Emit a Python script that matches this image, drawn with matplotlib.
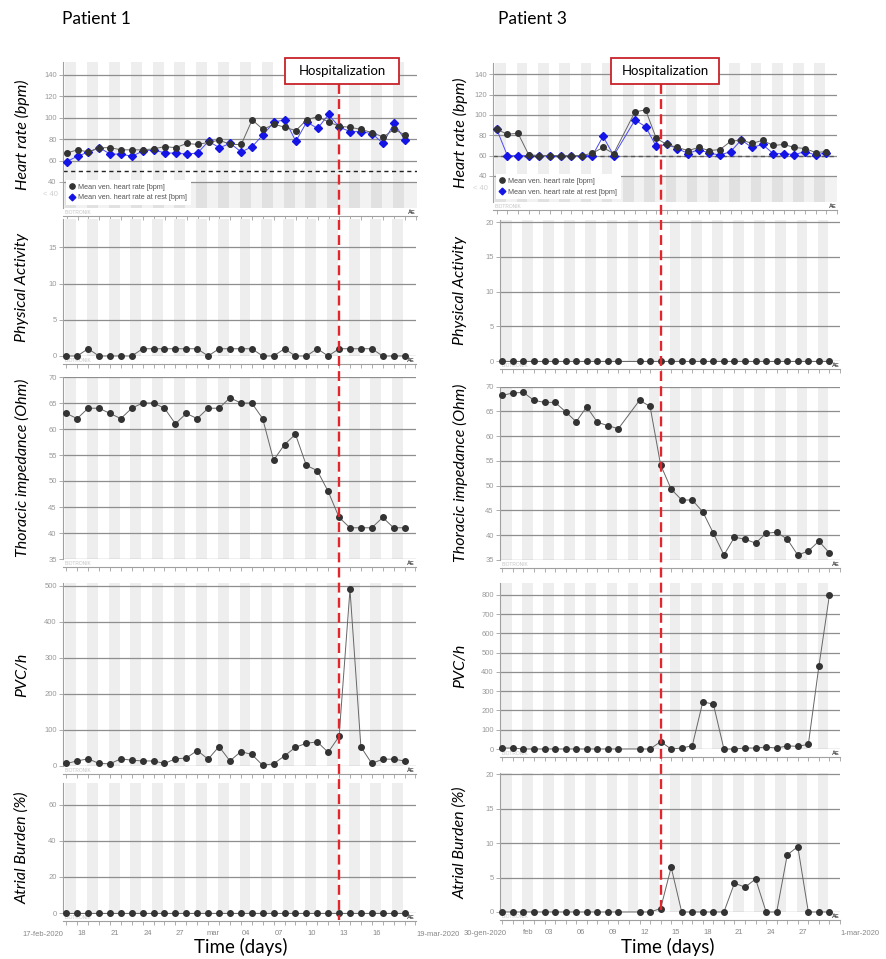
import numpy as np
import matplotlib.pyplot as plt
import matplotlib.transforms as mtransforms
from matplotlib.lines import Line2D
from matplotlib.patches import Rectangle

nan = np.nan

# ---- Patient 1: one value per day, 17-feb-2020 .. 19-mar-2020 ----
p1_hr_mean = [67, 70, 68, 72, 72, 70, 70, 70, 71, 73, 72, 76, 75, 77, 79, 75,
              75, 98, 89, 94, 91, 88, 98, 101, 96, 92, 91, 89, 86, 82, 89, 84]
p1_hr_rest = [59, 64, 68, 72, 66, 66, 64, 69, 70, 67, 67, 66, 67, 78, 72, 76,
              68, 73, 84, 96, 98, 78, 96, 90, 103, 91, 87, 87, 85, 76, 95, 79]
p1_activity = [0, 0, 1, 0, 0, 0, 0, 1, 1, 1, 1, 1, 1, 0, 1, 1,
               1, 1, 0, 0, 1, 0, 0, 1, 0, 1, 1, 1, 1, 0, 0, 0]
p1_impedance = [63, 62, 64, 64, 63, 62, 64, 65, 65, 64, 61, 63, 62, 64, 64, 66,
                65, 65, 62, 54, 57, 59, 53, 52, 48, 43, 41, 41, 41, 43, 41, 41]
p1_pvc = [7, 14, 20, 7, 6, 20, 16, 14, 14, 7, 20, 22, 43, 19, 54, 14,
          40, 32, 2, 6, 28, 52, 63, 67, 38, 82, 490, 53, 7, 19, 19, 14]
p1_burden = [0, 0, 0, 0, 0, 0, 0, 0, 0, 0, 0, 0, 0, 0, 0, 0,
             0, 0, 0, 0, 0, 0, 0, 0, 0, 0, 0, 0, 0, 0, 0, 0]
p1_range = ['17-feb-2020', '19-mar-2020']
p1_tick_days = [1, 4, 7, 10, 13, 16, 19, 22, 25, 28]
p1_tick_labels = ['18', '21', '24', '27', 'mar', '04', '07', '10', '13', '16']
p1_hosp_day = 25

# ---- Patient 3: one value per day, 30-gen-2020 .. 1-mar-2020 (day 12 missing) ----
p3_hr_mean = [86, 81, 82, 61, 60, 60, 60, 60, 60, 62.5, 68, 62, nan, 103, 105, 77,
              71, 68, 65, 68, 65, 66, 74, 75.5, 72, 75, 70, 71, 68, 67, 63, 64]
p3_hr_rest = [86, 60, 60, 60, 60, 60, 60, 60, 60, 60, 79, 60, nan, 95, 88.5, 69,
              71, 67, 62, 66, 62.5, 60.5, 64, 75.5, 68, 71, 62, 62, 61, 64, 60.5, 63]
p3_activity = [0, 0, 0, 0, 0, 0, 0, 0, 0, 0, 0, 0, nan, 0, 0, 0,
               0, 0, 0, 0, 0, 0, 0, 0, 0, 0, 0, 0, 0, 0, 0, 0]
p3_impedance = [68.2, 68.7, 68.8, 67.2, 66.8, 66.8, 64.9, 62.9, 65.9, 62.8, 62.1, 61.5, nan, 67.2, 66.0, 54.2,
                49.3, 47.1, 47.1, 44.7, 40.4, 36.0, 39.6, 39.2, 38.4, 40.4, 40.6, 39.2, 36.0, 36.8, 38.8, 36.4]
p3_pvc = [5, 5, 0, 0, 0, 0, 0, 0, 0, 0, 0, 0, nan, 0, 0, 38,
          0, 5, 17, 245, 233, 0, 0, 5, 5, 10, 5, 16, 14, 24, 430, 800]
p3_burden = [0, 0, 0, 0, 0, 0, 0, 0, 0, 0, 0, 0, nan, 0, 0, 0.5,
             6.5, 0, 0, 0, 0, 0, 4.2, 3.6, 4.8, 0, 0, 8.3, 9.5, 0, 0, 0]
p3_range = ['30-gen-2020', '1-mar-2020']
p3_tick_days = [2, 4, 7, 10, 13, 16, 19, 22, 25, 28]
p3_tick_labels = ['feb', '03', '06', '09', '12', '15', '18', '21', '24', '27']
p3_hosp_day = 15

ylabels = ['Heart rate (bpm)', 'Physical Activity', 'Thoracic impedance (Ohm)',
           'PVC/h', 'Atrial Burden (%)']

W, H = 886, 959
fig = plt.figure(figsize=(W / 100, H / 100), dpi=100)

LABEL_FONT = 'Lato'
SMALL_FONT = 'Liberation Sans'
GRID = '#8e8e8e'
AXC = '#a0a0a0'


def add_panel(xpx, top, bottom, xlim, ylim, yticks, ndays):
    ax = fig.add_axes([xpx[0] / W, 1 - bottom / H, (xpx[1] - xpx[0]) / W, (bottom - top) / H])
    ax.set_xlim(xlim)
    ax.set_ylim(ylim)
    ax.patch.set_alpha(0)
    # alternating day stripes
    for d in range(0, ndays - 1, 2):
        ax.axvspan(d - 0.12, d + 0.88, color='#eeeeee', lw=0, zorder=0)
    for v in yticks:
        ax.axhline(v, color=GRID, lw=0.9, zorder=1)
    ax.set_yticks(yticks)
    ax.tick_params(axis='y', direction='out', length=3, width=0.6, color=AXC,
                   labelsize=5.5, labelcolor='#999999', pad=1.5)
    ax.set_xticks(np.arange(0, ndays + 1), minor=True)
    ax.set_xticks([])
    ax.tick_params(axis='x', which='minor', direction='out', length=3, width=0.6, color=AXC)
    for s in ('top', 'right'):
        ax.spines[s].set_visible(False)
    ax.spines['left'].set_color(AXC)
    ax.spines['left'].set_linewidth(0.8)
    ax.spines['bottom'].set_position(('outward', 6))
    ax.spines['bottom'].set_color(AXC)
    ax.spines['bottom'].set_linewidth(0.8)
    ax.annotate('BIOTRONIK', xy=(0.005, 0), xycoords='axes fraction', xytext=(0, -3),
                textcoords='offset points', fontsize=3.5, color='#c4c4c4', va='center',
                family=SMALL_FONT)
    ax.annotate('ÅE', xy=(0.975, 0), xycoords='axes fraction', xytext=(0, -3),
                textcoords='offset points', fontsize=4, color='#444444', va='center',
                weight='bold', family=SMALL_FONT)
    for lab in ax.get_yticklabels():
        lab.set_family(SMALL_FONT)
    return ax


def plot_series(ax, y, color='#666666', mcolor='#333333', marker='o', ms=4.0, z=3):
    y = np.asarray(y, dtype=float)
    x = np.arange(len(y))
    m = np.isfinite(y)
    ax.plot(x[m], y[m], color=color, lw=0.7, marker=marker, ms=ms, mfc=mcolor,
            mec=mcolor, clip_on=False, zorder=z)


def hr_extras(ax, ref, ref_color):
    y0 = ax.get_ylim()[0]
    ax.axhspan(y0, 40, color='black', alpha=0.05, lw=0, zorder=0.5)
    ax.axhline(ref, color=ref_color, lw=1.0, dashes=(3, 2.5), zorder=2)
    ax.annotate('< 40', xy=(0, 28), xycoords=('axes fraction', 'data'), xytext=(-4, 0),
                textcoords='offset points', ha='right', va='center', fontsize=5.5,
                color='#d0d0d0', family=SMALL_FONT)
    handles = [Line2D([], [], ls='none', marker='o', ms=3.8, mfc='#333333', mec='#333333',
                      label='Mean ven. heart rate [bpm]'),
               Line2D([], [], ls='none', marker='D', ms=3.4, mfc='#1414e6', mec='#1414e6',
                      label='Mean ven. heart rate at rest [bpm]')]
    leg = ax.legend(handles=handles, loc='lower left', bbox_to_anchor=(0.008, 0.02),
                    prop={'family': SMALL_FONT, 'size': 5.2}, frameon=True,
                    fancybox=False, handlelength=0.8, handletextpad=0.4,
                    borderpad=0.5, labelspacing=0.5, borderaxespad=0)
    leg.get_frame().set_facecolor('white')
    leg.get_frame().set_edgecolor('none')
    leg.get_frame().set_alpha(1)
    leg.set_zorder(5)
    for t in leg.get_texts():
        t.set_color('#555555')


def bottom_dates(ax, tick_days, tick_labels, date_range, first_x):
    ax.set_xticks(np.asarray(tick_days) + 0.45)
    ax.set_xticklabels(tick_labels, family=SMALL_FONT)
    ax.tick_params(axis='x', which='major', length=0, pad=6.5, labelsize=5.5,
                   labelcolor='#888888')
    lo, hi = ax.get_xlim()
    ax.annotate(date_range[0], xy=(first_x, 0), xycoords=('data', 'axes fraction'),
                xytext=(0, -15.2), textcoords='offset points', ha='right', va='center',
                fontsize=5.5, color='#888888', family=SMALL_FONT)
    ax.annotate(date_range[1], xy=(hi, 0), xycoords=('data', 'axes fraction'),
                xytext=(0, -15.2), textcoords='offset points', ha='left', va='center',
                fontsize=5.5, color='#888888', family=SMALL_FONT)


def patient(cols, data, tick_days, tick_labels, date_range, hosp_day, ref, ref_color,
            label_x, title, title_x, first_x, line_end):
    hr_mean, hr_rest, act, imp, pvc, bur = data
    axes = []
    for i, (xpx, xlim, (top, bottom), ylim, yticks) in enumerate(cols):
        ax = add_panel(xpx, top, bottom, xlim, ylim, yticks, len(hr_mean))
        axes.append(ax)
        fig.text(label_x / W, 1 - (top + bottom) / 2 / H, ylabels[i], rotation=90,
                 ha='center', va='center', fontsize=11.5, style='italic',
                 family=LABEL_FONT, color='black')
    hr_extras(axes[0], ref, ref_color)
    plot_series(axes[0], hr_rest, color='#4a4af5', mcolor='#1414e6', marker='D', ms=3.6, z=3)
    plot_series(axes[0], hr_mean, z=4)
    plot_series(axes[1], act)
    plot_series(axes[2], imp)
    plot_series(axes[3], pvc)
    plot_series(axes[4], bur)
    bottom_dates(axes[4], tick_days, tick_labels, date_range, first_x)

    # hospitalization marker across all panels
    ref_ax = axes[2]
    trans = mtransforms.blended_transform_factory(ref_ax.transData, fig.transFigure)
    fig.add_artist(Line2D([hosp_day, hosp_day], [1 - 84 / H, 1 - line_end / H],
                          transform=trans, color='#e3262b', lw=1.7, dashes=(4.2, 2.2),
                          zorder=10))
    fig.text(title_x / W, 1 - 19 / H, title, ha='left', va='center', fontsize=12.5,
             family=LABEL_FONT)
    return axes


left_cols = [
    ((63, 417), (-0.33, 32.1), (62, 208), (15.7, 152), [40, 60, 80, 100, 120, 140]),
    ((63, 416), (-0.3, 32.05), (219, 356), (0, 18.9), [0, 5, 10, 15]),
    ((63, 416), (-0.3, 32.05), (377, 559), (35, 70), [35, 40, 45, 50, 55, 60, 65, 70]),
    ((63, 416), (-0.3, 32.05), (583, 766), (0, 508), [0, 100, 200, 300, 400, 500]),
    ((63, 416), (-0.3, 32.05), (783, 913), (0, 72.2), [0, 20, 40, 60]),
]
right_cols = [
    ((493, 837), (-0.35, 31.98), (63, 202), (14.4, 151.1), [40, 60, 80, 100, 120, 140]),
    ((500, 840), (-0.22, 31.9), (220, 361), (0, 20.3), [0, 5, 10, 15, 20]),
    ((500, 840), (-0.22, 31.9), (386.5, 560), (35, 70), [35, 40, 45, 50, 55, 60, 65, 70]),
    ((500, 840), (-0.22, 31.9), (583, 749), (0, 862), [0, 100, 200, 300, 400, 500, 600, 700, 800]),
    ((500, 840), (-0.22, 31.9), (773, 912), (0, 20.2), [0, 5, 10, 15, 20]),
]

patient(left_cols, (p1_hr_mean, p1_hr_rest, p1_activity, p1_impedance, p1_pvc, p1_burden),
        p1_tick_days, p1_tick_labels, p1_range, p1_hosp_day, 50, '#222222',
        22, 'Patient 1', 62, -0.3, 920)
patient(right_cols, (p3_hr_mean, p3_hr_rest, p3_activity, p3_impedance, p3_pvc, p3_burden),
        p3_tick_days, p3_tick_labels, p3_range, p3_hosp_day, 60, '#555555',
        460, 'Patient 3', 498, 0.45, 912)

# hospitalization boxes
for (x0, x1) in [(285, 399), (611, 719)]:
    fig.add_artist(Rectangle((x0 / W, 1 - 84 / H), (x1 - x0) / W, 26 / H,
                             transform=fig.transFigure, facecolor='white',
                             edgecolor='#c8232b', lw=1.3, zorder=11))
    fig.text((x0 + x1) / 2 / W, 1 - 71 / H, 'Hospitalization', ha='center', va='center',
             fontsize=9.5, family=LABEL_FONT, zorder=12)

# x axis titles
fig.text(241 / W, 1 - 947 / H, 'Time (days)', ha='center', va='center', fontsize=13.5,
         family=LABEL_FONT)
fig.text(668 / W, 1 - 947 / H, 'Time (days)', ha='center', va='center', fontsize=13.5,
         family=LABEL_FONT)

fig.savefig('out.png', dpi=100)
